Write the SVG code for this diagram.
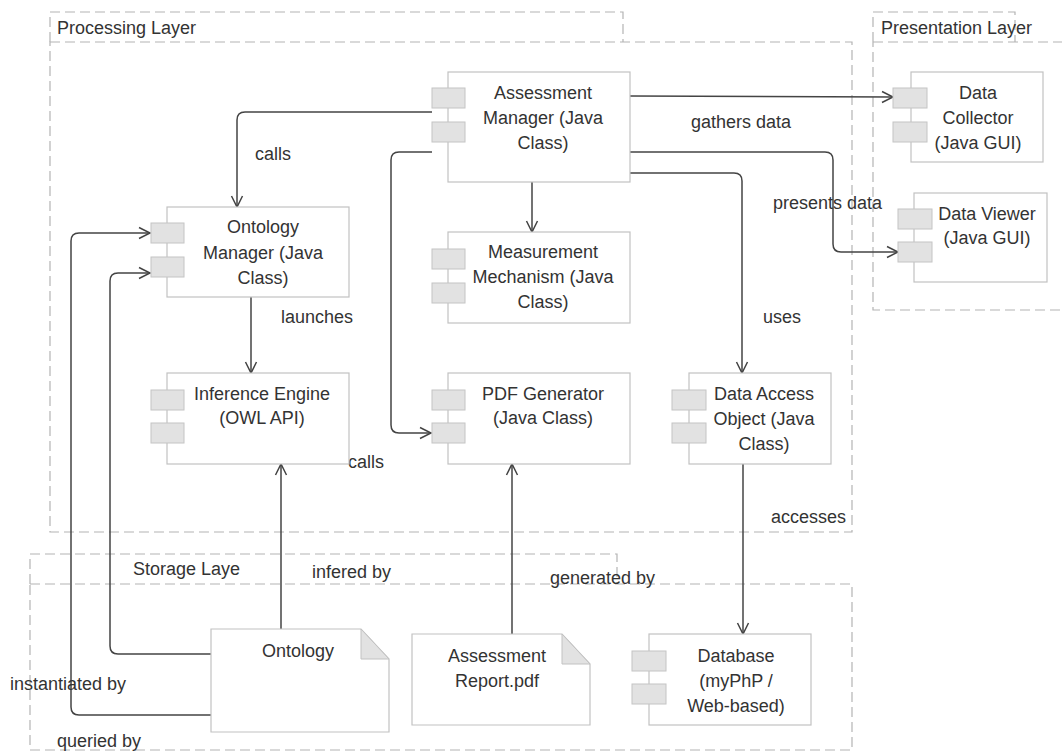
<svg xmlns="http://www.w3.org/2000/svg" width="1062" height="752" viewBox="0 0 1062 752">
<defs>
<style>
text{font-family:"Liberation Sans",Arial,sans-serif;font-size:18px;fill:#333}
.c text{text-anchor:middle}
.frame{fill:none;stroke:#b4b4b4;stroke-width:1.2;stroke-dasharray:10 5}
.box{fill:#fff;stroke:#c2c2c2;stroke-width:1.2}
.port{fill:#e2e2e2;stroke:#c4c4c4;stroke-width:1}
.fold{fill:#e2e2e2;stroke:#c2c2c2;stroke-width:1}
.conn{fill:none;stroke:#444;stroke-width:1.5;marker-end:url(#arr)}
</style>
<marker id="arr" markerUnits="userSpaceOnUse" markerWidth="14" markerHeight="14" viewBox="0 0 14 14" refX="12" refY="7" orient="auto">
<path d="M1,1.5 L12,7 L1,12.5" fill="none" stroke="#444" stroke-width="1.5"/>
</marker>
</defs>
<rect width="1062" height="752" fill="#fff"/>

<g id="frames">
<path class="frame" d="M50,42 V12 H623 V42"/>
<path class="frame" d="M50,42 H852 V532 H50 Z"/>
<text x="57" y="34">Processing Layer</text>
<path class="frame" d="M873,42 V12 H1015 V42"/>
<path class="frame" d="M873,42 H1075 M1075,310 H873 V42"/>
<text x="881" y="34">Presentation Layer</text>
<path class="frame" d="M30,584 V554 H617 V584"/>
<path class="frame" d="M30,584 H852 V750 H30 Z"/>
<text x="133" y="575">Storage Laye</text>
</g>

<g id="connectors">
<path class="conn" d="M432,112 H245 Q237,112 237,120 V207"/>
<path class="conn" d="M432,152 H399 Q391,152 391,160 V425 Q391,433 399,433 H431"/>
<path class="conn" d="M630,96 L893,97"/>
<path class="conn" d="M630,152 H825 Q833,152 833,160 V244 Q833,252 841,252 H898"/>
<path class="conn" d="M630,173 H734 Q742,173 742,181 V373"/>
<path class="conn" d="M532,182 V232"/>
<path class="conn" d="M251,297 V373"/>
<path class="conn" d="M281,629 V464"/>
<path class="conn" d="M512,634 V464"/>
<path class="conn" d="M743,464 V634"/>
<path class="conn" d="M211,715 H79 Q71,715 71,707 V241 Q71,233 79,233 H150"/>
<path class="conn" d="M211,654 H118 Q110,654 110,646 V281 Q110,273 118,273 H150"/>
<text x="255" y="160">calls</text>
<text x="691" y="128">gathers data</text>
<text x="773" y="209">presents data</text>
<text x="763" y="323">uses</text>
<text x="281" y="323">launches</text>
<text x="348" y="468">calls</text>
<text x="771" y="523">accesses</text>
<text x="312" y="578">infered by</text>
<text x="550" y="584">generated by</text>
<text x="10" y="690">instantiated by</text>
<text x="57" y="747">queried by</text>
</g>

<g id="assessment-manager" class="c">
<rect class="box" x="448" y="72" width="182" height="110"/>
<rect class="port" x="432" y="88" width="33" height="20"/>
<rect class="port" x="432" y="122" width="33" height="20"/>
<text x="543" y="99">Assessment</text>
<text x="543" y="124">Manager (Java</text>
<text x="543" y="149">Class)</text>
</g>

<g id="data-collector" class="c">
<rect class="box" x="911" y="72" width="132" height="90"/>
<rect class="port" x="893" y="88" width="34" height="20"/>
<rect class="port" x="893" y="122" width="34" height="20"/>
<text x="978" y="99">Data</text>
<text x="978" y="124">Collector</text>
<text x="978" y="149">(Java GUI)</text>
</g>

<g id="data-viewer" class="c">
<rect class="box" x="914" y="193" width="133" height="89"/>
<rect class="port" x="898" y="209" width="34" height="20"/>
<rect class="port" x="898" y="242" width="34" height="20"/>
<text x="987" y="220">Data Viewer</text>
<text x="987" y="244">(Java GUI)</text>
</g>

<g id="ontology-manager" class="c">
<rect class="box" x="167" y="207" width="182" height="90"/>
<rect class="port" x="151" y="223" width="33" height="20"/>
<rect class="port" x="151" y="257" width="33" height="20"/>
<text x="263" y="233">Ontology</text>
<text x="263" y="259">Manager (Java</text>
<text x="263" y="284">Class)</text>
</g>

<g id="measurement-mechanism" class="c">
<rect class="box" x="448" y="232" width="182" height="91"/>
<rect class="port" x="432" y="249" width="33" height="20"/>
<rect class="port" x="432" y="283" width="33" height="20"/>
<text x="543" y="258">Measurement</text>
<text x="543" y="283">Mechanism (Java</text>
<text x="543" y="308">Class)</text>
</g>

<g id="inference-engine" class="c">
<rect class="box" x="167" y="373" width="182" height="91"/>
<rect class="port" x="151" y="390" width="33" height="20"/>
<rect class="port" x="151" y="423" width="33" height="20"/>
<text x="262" y="400">Inference Engine</text>
<text x="262" y="424">(OWL API)</text>
</g>

<g id="pdf-generator" class="c">
<rect class="box" x="448" y="373" width="182" height="91"/>
<rect class="port" x="432" y="390" width="33" height="20"/>
<rect class="port" x="432" y="423" width="33" height="20"/>
<text x="543" y="400">PDF Generator</text>
<text x="543" y="424">(Java Class)</text>
</g>

<g id="data-access-object" class="c">
<rect class="box" x="689" y="373" width="142" height="91"/>
<rect class="port" x="672" y="390" width="34" height="20"/>
<rect class="port" x="672" y="423" width="34" height="20"/>
<text x="764" y="400">Data Access</text>
<text x="764" y="425">Object (Java</text>
<text x="764" y="450">Class)</text>
</g>

<g id="ontology" class="c">
<path class="box" d="M211,629 H361 L389,659 V732 H211 Z"/>
<path class="fold" d="M361,629 V659 H389 Z"/>
<text x="298" y="657">Ontology</text>
</g>

<g id="assessment-report" class="c">
<path class="box" d="M412,634 H562 L590,664 V725 H412 Z"/>
<path class="fold" d="M562,634 V664 H590 Z"/>
<text x="497" y="662">Assessment</text>
<text x="497" y="687">Report.pdf</text>
</g>

<g id="database" class="c">
<rect class="box" x="649" y="634" width="162" height="91"/>
<rect class="port" x="632" y="651" width="34" height="20"/>
<rect class="port" x="632" y="684" width="34" height="20"/>
<text x="736" y="662">Database</text>
<text x="736" y="687">(myPhP /</text>
<text x="736" y="712">Web-based)</text>
</g>
</svg>
